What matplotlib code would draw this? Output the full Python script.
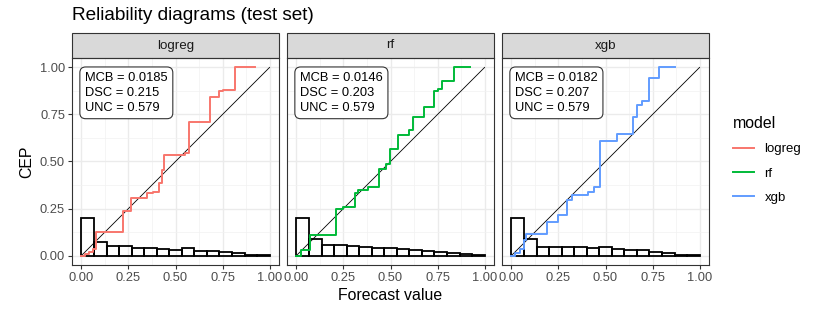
import numpy as np
import matplotlib
matplotlib.use("Agg")
import matplotlib.pyplot as plt
from matplotlib.patches import Rectangle
from matplotlib.lines import Line2D

plt.rcParams["font.family"] = ["Liberation Sans", "DejaVu Sans"]

# models and their summary scores
models = ["logreg", "rf", "xgb"]
mcb = [0.0185, 0.0146, 0.0182]
dsc = [0.215, 0.203, 0.207]
unc = [0.579, 0.579, 0.579]

# CEP step curves (jump location, new value)
cep_x_logreg = [0, 0.02, 0.04, 0.062, 0.076, 0.222, 0.263, 0.346, 0.378, 0.414, 0.426, 0.439,
                0.551, 0.574, 0.684, 0.732, 0.755, 0.814, 0.920]
cep_y_logreg = [0, 0.01, 0.02, 0.035, 0.123, 0.238, 0.305, 0.330, 0.336, 0.384, 0.453, 0.533,
                0.543, 0.711, 0.841, 0.877, 0.882, 1.0, 1.0]
cep_x_rf = [0, 0.027, 0.074, 0.208, 0.249, 0.311, 0.325, 0.378, 0.439, 0.476, 0.497, 0.542,
            0.599, 0.618, 0.680, 0.732, 0.755, 0.773, 0.835, 0.920]
cep_y_rf = [0, 0.032, 0.108, 0.247, 0.259, 0.335, 0.347, 0.367, 0.459, 0.485, 0.568, 0.640,
            0.670, 0.737, 0.788, 0.873, 0.887, 0.926, 1.0, 1.0]
cep_x_xgb = [0, 0.02, 0.044, 0.067, 0.080, 0.187, 0.249, 0.293, 0.320, 0.405, 0.440, 0.471,
             0.560, 0.645, 0.666, 0.693, 0.732, 0.782, 0.867]
cep_y_xgb = [0, 0.015, 0.035, 0.083, 0.115, 0.180, 0.215, 0.296, 0.323, 0.339, 0.362, 0.608,
             0.644, 0.737, 0.802, 0.824, 0.944, 1.0, 1.0]

# histogram of forecast values (15 bins on [0, 1], scaled heights)
hist_logreg = [0.201, 0.074, 0.049, 0.049, 0.039, 0.039, 0.035, 0.032, 0.039, 0.026,
               0.023, 0.019, 0.012, 0.005, 0.001]
hist_rf = [0.201, 0.088, 0.056, 0.056, 0.053, 0.044, 0.039, 0.039, 0.035, 0.030,
           0.026, 0.021, 0.016, 0.009, 0.002]
hist_xgb = [0.201, 0.088, 0.048, 0.044, 0.044, 0.044, 0.039, 0.044, 0.035, 0.030,
            0.030, 0.019, 0.014, 0.004, 0.001]

ticks = [0, 0.25, 0.5, 0.75, 1.0]
tick_labels = ["0.00", "0.25", "0.50", "0.75", "1.00"]

colors = ["#F8766D", "#00BA38", "#619CFF"]
cep_x = [cep_x_logreg, cep_x_rf, cep_x_xgb]
cep_y = [cep_y_logreg, cep_y_rf, cep_y_xgb]
hists = [hist_logreg, hist_rf, hist_xgb]

W, H = 830, 312
fig = plt.figure(figsize=(W / 100, H / 100), dpi=100)

lefts = [72, 287, 502]
pw, ph = 207, 207
ptop = 58
strip_h = 25

axes = []
for i, m in enumerate(models):
    ax = fig.add_axes([lefts[i] / W, 1 - (ptop + ph) / H, pw / W, ph / H])
    axes.append(ax)
    ax.set_xlim(-0.05, 1.05)
    ax.set_ylim(-0.05, 1.05)
    ax.set_xticks(ticks)
    ax.set_xticklabels(tick_labels)
    ax.set_yticks(ticks)
    ax.set_xticks([0.125, 0.375, 0.625, 0.875], minor=True)
    ax.set_yticks([0.125, 0.375, 0.625, 0.875], minor=True)
    if i == 0:
        ax.set_yticklabels(tick_labels)
    else:
        ax.tick_params(axis="y", which="both", left=False, labelleft=False)
    ax.grid(which="major", color="#EBEBEB", lw=1.0)
    ax.grid(which="minor", color="#F2F2F2", lw=0.5)
    ax.set_axisbelow(True)
    ax.tick_params(which="major", length=3, width=0.8, color="#333333",
                   labelcolor="#4D4D4D", labelsize=9.3, pad=2)
    ax.tick_params(which="minor", length=0)
    for s in ax.spines.values():
        s.set_color("#333333")
        s.set_linewidth(0.8)

    # histogram
    edges = np.linspace(0, 1, len(hists[i]) + 1)
    ax.bar(edges[:-1], hists[i], width=edges[1] - edges[0], align="edge",
           fill=False, edgecolor="black", lw=1.3, zorder=3)
    # diagonal
    ax.plot([0, 1], [0, 1], color="black", lw=0.6, zorder=2)
    # CEP curve
    ax.step(cep_x[i], cep_y[i], where="post", color=colors[i], lw=1.4, zorder=4)

    txt = f"MCB = {mcb[i]}\nDSC = {dsc[i]}\nUNC = {unc[i]}"
    ax.annotate(txt, xy=(0, 1), xycoords="data", xytext=(2.6, -3.4), textcoords="offset points",
                ha="left", va="top", fontsize=9.3, linespacing=1.3, color="black", zorder=5,
                bbox=dict(boxstyle="round,pad=0.4,rounding_size=0.45", fc="white",
                          ec="#333333", lw=0.8))

    # facet strip
    ax.add_patch(Rectangle((0, 1), 1, strip_h / ph, transform=ax.transAxes,
                           fc="#D9D9D9", ec="#333333", lw=0.8, clip_on=False))
    ax.text(0.5, 1 + strip_h / ph / 2, m, transform=ax.transAxes, ha="center",
            va="center", fontsize=9.6, color="#1A1A1A")

fig.text(72 / W, 1 - 16 / H, "Reliability diagrams (test set)", fontsize=13.7,
         ha="left", va="center")
fig.text(390 / W, 1 - 296 / H, "Forecast value", fontsize=11.4, ha="center", va="center")
fig.text(27 / W, 1 - 162 / H, "CEP", fontsize=11.4, ha="center", va="center", rotation=90)

handles = [Line2D([], [], color=c, lw=1.4) for c in colors]
leg = fig.legend(handles, models, title="model", loc="center left",
                 bbox_to_anchor=(721 / W, 1 - 160 / H), frameon=False,
                 fontsize=9.5, title_fontsize=11.4, handlelength=1.6,
                 handletextpad=0.8, labelspacing=0.9, alignment="left")

fig.savefig("out.png", dpi=100)
